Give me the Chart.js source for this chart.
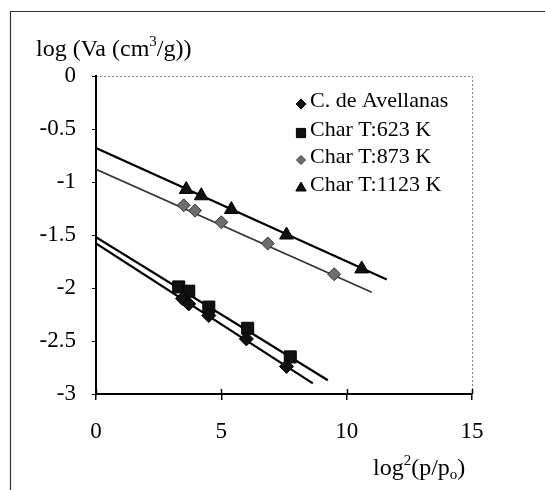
<!DOCTYPE html>
<html>
<head>
<meta charset="utf-8">
<script src="https://cdn.jsdelivr.net/npm/chart.js@4.4.1/dist/chart.umd.min.js"></script>
<style>
  html, body { margin: 0; padding: 0; background: #fff; }
  #wrap { width: 545px; height: 490px; position: relative; }
</style>
</head>
<body>
<div id="wrap"><canvas id="chart" width="545" height="490"></canvas></div>
<script>
  // ---------- Data ----------
  const avellanasX = [3.45, 3.7, 4.5, 6.0, 7.6];
  const avellanasY = [-2.1, -2.15, -2.26, -2.48, -2.74];

  const char623X = [3.3, 3.7, 4.5, 6.05, 7.75];
  const char623Y = [-1.99, -2.03, -2.18, -2.38, -2.65];

  const char873X = [3.5, 3.95, 5.0, 6.85, 9.5];
  const char873Y = [-1.22, -1.27, -1.38, -1.58, -1.87];

  const char1123X = [3.6, 4.2, 5.4, 7.6, 10.6];
  const char1123Y = [-1.07, -1.13, -1.26, -1.5, -1.82];

  // fitted lines (start / end)
  const fitAvellanasX = [0, 8.65];
  const fitAvellanasY = [-1.58, -2.9];
  const fit623X = [0, 9.25];
  const fit623Y = [-1.52, -2.87];
  const fit873X = [0, 11.0];
  const fit873Y = [-0.88, -2.04];
  const fit1123X = [0, 11.6];
  const fit1123Y = [-0.68, -1.92];

  const xTicks = [0, 5, 10, 15];
  const yTicks = [0, -0.5, -1, -1.5, -2, -2.5, -3];

  const seriesNames = ["C. de Avellanas", "Char T:623 K", "Char T:873 K", "Char T:1123 K"];

  const SERIF = "'Liberation Serif', 'Times New Roman', serif";

  const pts = (xs, ys) => xs.map((x, i) => ({ x, y: ys[i] }));

  // ---------- Plugins ----------
  const frame = {
    id: "frame",
    beforeDraw(chart) {
      const c = chart.ctx;
      const a = chart.chartArea;
      c.save();
      // scanned page border (top + left)
      c.strokeStyle = "#333";
      c.lineWidth = 1.2;
      c.beginPath();
      c.moveTo(10.5, 490);
      c.lineTo(10.5, 11.5);
      c.lineTo(545, 11.5);
      c.stroke();
      // dotted plot border top/right
      c.strokeStyle = "#888";
      c.lineWidth = 1;
      c.setLineDash([2, 2]);
      c.beginPath();
      c.moveTo(a.left, a.top + 0.5);
      c.lineTo(a.right + 0.5, a.top + 0.5);
      c.lineTo(a.right + 0.5, a.bottom);
      c.stroke();
      c.restore();
    },
    afterDraw(chart) {
      const c = chart.ctx;
      const a = chart.chartArea;
      const xs = chart.scales.x;
      c.save();
      // ticks crossing the x axis
      c.strokeStyle = "#000";
      c.lineWidth = 1.5;
      xTicks.forEach(v => {
        const px = Math.round(xs.getPixelForValue(v)) + 0.5;
        c.beginPath();
        c.moveTo(px, a.bottom - 5);
        c.lineTo(px, a.bottom);
        c.stroke();
      });

      c.fillStyle = "#000";
      c.textBaseline = "alphabetic";
      const big = "24px " + SERIF;
      const small = "15px " + SERIF;
      // y title: log (Va (cm3/g))
      c.font = big;
      let x = 36;
      const yT = 56;
      const part1 = "log (Va (cm";
      c.fillText(part1, x, yT);
      x += c.measureText(part1).width;
      c.font = small;
      c.fillText("3", x, yT - 10);
      x += c.measureText("3").width;
      c.font = big;
      c.fillText("/g))", x, yT);

      // x title: log2(p/po)
      x = 373;
      const yX = 475;
      c.fillText("log", x, yX);
      x += c.measureText("log").width;
      c.font = small;
      c.fillText("2", x, yX - 10);
      x += c.measureText("2").width;
      c.font = big;
      c.fillText("(p/p", x, yX);
      x += c.measureText("(p/p").width;
      c.font = small;
      c.fillText("o", x, yX + 4);
      x += c.measureText("o").width;
      c.font = big;
      c.fillText(")", x, yX);

      // legend inside the plot
      const legendY = [101, 130, 157, 185];
      c.font = "22px " + SERIF;
      c.textBaseline = "middle";
      seriesNames.forEach((name, i) => {
        const ds = chart.data.datasets[i];
        c.fillStyle = ds.pointBackgroundColor;
        c.strokeStyle = ds.pointBorderColor;
        c.lineWidth = 1;
        Chart.helpers.drawPoint(c, {
          pointStyle: ds.pointStyle,
          radius: ds.pointRadius - 2,
          borderWidth: 1
        }, 301, legendY[i] + 3);
        c.fillStyle = "#000";
        c.fillText(name, 310, legendY[i]);
      });
      c.restore();
    }
  };

  const scatter = (xs, ys, style, radius, fill, edge) => ({
    type: "scatter",
    data: pts(xs, ys),
    pointStyle: style,
    pointRadius: radius,
    pointBackgroundColor: fill,
    pointBorderColor: edge,
    pointBorderWidth: 1,
    showLine: false
  });

  const fit = (xs, ys, width, color) => ({
    type: "line",
    data: pts(xs, ys),
    borderColor: color,
    borderWidth: width,
    pointRadius: 0,
    fill: false,
    tension: 0
  });

  const ctx = document.getElementById("chart").getContext("2d");
  const chart = new Chart(ctx, {
    data: {
      datasets: [
        scatter(avellanasX, avellanasY, "rectRot", 7, "#111", "#000"),
        scatter(char623X, char623Y, "rect", 8.5, "#111", "#000"),
        scatter(char873X, char873Y, "rectRot", 6.5, "#6e6e6e", "#333"),
        scatter(char1123X, char1123Y, "triangle", 8, "#111", "#000"),
        fit(fitAvellanasX, fitAvellanasY, 2.2, "#000"),
        fit(fit623X, fit623Y, 2.2, "#000"),
        fit(fit873X, fit873Y, 1.6, "#333"),
        fit(fit1123X, fit1123Y, 2.2, "#000")
      ]
    },
    options: {
      responsive: false,
      animation: false,
      layout: { padding: { left: 0, top: 76, right: 73, bottom: 0 } },
      plugins: {
        legend: { display: false },
        tooltip: { enabled: false }
      },
      scales: {
        x: {
          type: "linear",
          min: 0,
          max: 15,
          afterBuildTicks: (s) => { s.ticks = xTicks.map(v => ({ value: v })); },
          afterFit: (s) => { s.height = 96; },
          border: { display: true, color: "#000", width: 2 },
          grid: { drawOnChartArea: false, drawTicks: true, tickLength: 6, color: "#000", lineWidth: 1.5 },
          ticks: {
            color: "#000",
            padding: 18,
            font: { family: SERIF, size: 23 }
          }
        },
        y: {
          type: "linear",
          min: -3,
          max: 0,
          afterBuildTicks: (s) => { s.ticks = yTicks.map(v => ({ value: v })); },
          afterFit: (s) => { s.width = 96; },
          border: { display: true, color: "#000", width: 2 },
          grid: { drawOnChartArea: false, drawTicks: true, tickLength: 4, color: "#000", lineWidth: 1 },
          ticks: {
            color: "#000",
            padding: 16,
            font: { family: SERIF, size: 23 },
            callback: (v) => String(v)
          }
        }
      }
    },
    plugins: [frame]
  });
</script>
</body>
</html>
